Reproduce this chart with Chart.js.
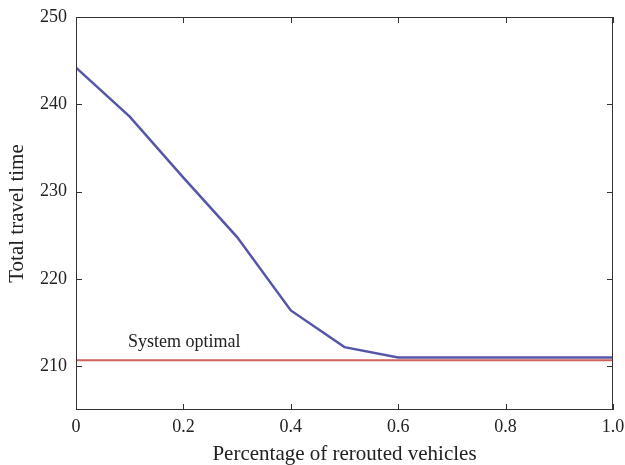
<!DOCTYPE html>
<html>
<head>
<meta charset="utf-8">
<script src="https://cdn.jsdelivr.net/npm/chart.js@4"></script>
<style>
  body { margin: 0; background: #fff; }
  canvas { display: block; }
</style>
</head>
<body>
<canvas id="travelChart" width="625" height="465"></canvas>
<script>
// ---- data ----
const share = [0, 0.1, 0.2, 0.3, 0.4, 0.5, 0.6, 0.7, 0.8, 0.9, 1.0];
const travelTime = [244.2, 238.6, 231.6, 224.8, 216.4, 212.2, 211.0, 211.0, 211.0, 211.0, 211.0];
const optimalX = [0, 1.0];
const optimalValue = 210.7;
const xTicks = [0, 0.2, 0.4, 0.6, 0.8, 1.0];
const yTicks = [210, 220, 230, 240, 250];
const optimalLabel = 'System optimal';

const FONT = "'Liberation Serif', 'DejaVu Serif', serif";
const AXIS = '#333';

// frame + inward ticks on all four sides, plus the line label
const framePlugin = {
    id: 'frame',
    afterDraw(chart) {
        const { ctx, chartArea: a, scales: { x, y } } = chart;
        ctx.save();
        ctx.strokeStyle = AXIS;
        ctx.lineWidth = 1;
        ctx.strokeRect(a.left + 0.5, a.top + 0.5, a.right - a.left - 1, a.bottom - a.top - 1);
        ctx.beginPath();
        const len = 6;
        xTicks.forEach(v => {
            const px = Math.round(x.getPixelForValue(v)) + 0.5;
            ctx.moveTo(px, a.bottom); ctx.lineTo(px, a.bottom - len);
            ctx.moveTo(px, a.top); ctx.lineTo(px, a.top + len);
        });
        yTicks.forEach(v => {
            const py = Math.round(y.getPixelForValue(v)) + 0.5;
            ctx.moveTo(a.left, py); ctx.lineTo(a.left + len, py);
            ctx.moveTo(a.right, py); ctx.lineTo(a.right - len, py);
        });
        ctx.stroke();

        ctx.fillStyle = '#222';
        ctx.font = "18px " + FONT;
        ctx.textBaseline = 'alphabetic';
        ctx.fillText(optimalLabel, x.getPixelForValue(0.097), y.getPixelForValue(optimalValue) - 13);
        ctx.restore();
    }
};

new Chart(document.getElementById('travelChart'), {
    type: 'line',
    data: {
        datasets: [
            {
                data: share.map((s, i) => ({ x: s, y: travelTime[i] })),
                borderColor: '#5656a8',
                borderWidth: 2.5,
                pointRadius: 0,
                tension: 0
            },
            {
                data: optimalX.map(s => ({ x: s, y: optimalValue })),
                borderColor: '#d0625c',
                borderWidth: 2,
                pointRadius: 0
            }
        ]
    },
    options: {
        responsive: false,
        animation: false,
        layout: { padding: { left: 0, right: 12, top: 17, bottom: 0 } },
        plugins: { legend: { display: false }, tooltip: { enabled: false } },
        scales: {
            x: {
                type: 'linear',
                min: 0,
                max: 1,
                afterBuildTicks: s => { s.ticks = xTicks.map(v => ({ value: v })); },
                afterFit: s => { s.height = 55; s.paddingLeft = 0; s.paddingRight = 0; },
                ticks: {
                    color: '#222',
                    font: { family: FONT, size: 18 },
                    padding: 6,
                    maxRotation: 0,
                    callback: v => v === 0 ? '0' : v.toFixed(1)
                },
                grid: { display: false, drawTicks: false },
                border: { display: false },
                title: {
                    display: true,
                    text: 'Percentage of rerouted vehicles',
                    color: '#222',
                    font: { family: FONT, size: 21, lineHeight: 1 },
                    padding: { top: 0, bottom: 0 }
                }
            },
            y: {
                min: 205,
                max: 250,
                afterBuildTicks: s => { s.ticks = yTicks.map(v => ({ value: v })); },
                afterFit: s => { s.width = 76; s.paddingTop = 0; s.paddingBottom = 0; },
                ticks: {
                    color: '#222',
                    font: { family: FONT, size: 18 },
                    padding: 9
                },
                grid: { display: false, drawTicks: false },
                border: { display: false },
                title: {
                    display: true,
                    text: 'Total travel time',
                    color: '#222',
                    font: { family: FONT, size: 21, lineHeight: 1 },
                    padding: { top: 7, bottom: 0 }
                }
            }
        }
    },
    plugins: [framePlugin]
});
</script>
</body>
</html>
